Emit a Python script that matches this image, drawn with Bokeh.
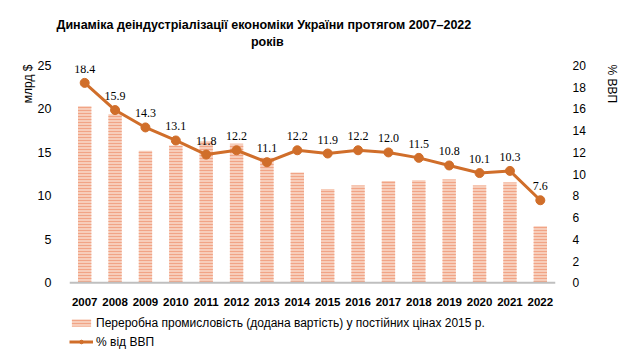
import math
from bokeh.plotting import figure
from bokeh.models import (Range1d, LinearAxis, Legend, LegendItem, Span,
                          ColumnDataSource, FixedTicker)
from bokeh.embed import file_html
from bokeh.resources import INLINE
from bokeh.core.properties import value

# ---- data ----
years = [str(y) for y in range(2007, 2023)]
manuf_value = [20.3, 19.4, 15.2, 15.8, 16.3, 16.0, 14.4, 12.7, 10.8, 11.2,
               11.7, 11.8, 11.9, 11.2, 11.55, 6.5]
share_gdp = [18.4, 15.9, 14.3, 13.1, 11.8, 12.2, 11.1, 12.2, 11.9, 12.2,
             12.0, 11.5, 10.8, 10.1, 10.3, 7.6]
share_labels = [f"{v:.1f}" for v in share_gdp]
left_ticks = [0, 5, 10, 15, 20, 25]
right_ticks = list(range(0, 21, 2))

title_line1 = "Динаміка деіндустріалізації економіки України протягом 2007–2022"
title_line2 = "років"
bar_name = "Переробна промисловість (додана вартість) у постійних цінах 2015 р."
line_name = "% від ВВП"
left_axis_title = "млрд $"
right_axis_title = "% ВВП"

LINE_COLOR = "#D06E2A"
BAR_FILL = "#F7CDBA"
BAR_HATCH = "#F1A486"
FONT = "Liberation Sans"
NBSP = "\u00a0"

# extra room below zero (for category labels and legend) inside the frame
LEFT_MAX, RIGHT_MAX = 25, 20
below_frac = 8.13 / 25

src = ColumnDataSource(dict(year=years, val=manuf_value, share=share_gdp, lab=share_labels))

p = figure(x_range=years, y_range=Range1d(-LEFT_MAX * below_frac, LEFT_MAX),
           frame_width=486, frame_height=288,
           output_backend="svg", toolbar_location=None,
           min_border_left=69, min_border_right=70, min_border_top=65, min_border_bottom=0)
p.extra_y_ranges = {"pct": Range1d(-RIGHT_MAX * below_frac, RIGHT_MAX)}

# two-line title; second line centred under the first with no-break spaces
p.title.text = title_line1 + "\n" + NBSP * 56 + title_line2
p.title.align = "left"
p.title.offset = -13
p.title.vertical_align = "top"
p.title.text_font = FONT
p.title.text_font_size = "12.5px"
p.title.text_font_style = "bold"
p.title.text_color = "#000000"
p.title.text_line_height = 1.25
p.title.standoff = 28

bars = p.vbar(x="year", top="val", width=0.44, source=src, fill_color=BAR_FILL,
              line_color=None, hatch_pattern="horizontal_line", hatch_color=BAR_HATCH,
              hatch_scale=3, hatch_weight=1)
p.add_layout(Span(location=0, dimension="width", line_color="#BFBFBF", line_width=2))
ln = p.line(x="year", y="share", source=src, y_range_name="pct", line_color=LINE_COLOR, line_width=3)
pts = p.scatter(x="year", y="share", source=src, y_range_name="pct", size=9,
                fill_color=LINE_COLOR, line_color=LINE_COLOR)
p.text(x="year", y="share", text="lab", source=src, y_range_name="pct",
       text_font=value("Liberation Serif"), text_font_size="12px", text_align="center",
       text_baseline="middle", y_offset=-14, text_color="#000000")
# category (year) labels under the baseline
p.text(x="year", y=0, text="year", source=src,
       text_font=value(FONT), text_font_style="bold", text_font_size="11.5px",
       text_align="center", text_baseline="middle", y_offset=19, text_color="#000000")

# axes
p.grid.visible = False
p.outline_line_color = None
p.xaxis.visible = False

ya = p.yaxis[0]
ya.ticker = FixedTicker(ticks=left_ticks)
ya.axis_line_color = None
ya.major_tick_line_color = None
ya.minor_tick_line_color = None
ya.major_label_text_font = FONT
ya.major_label_text_font_size = "12.5px"
ya.major_label_text_color = "#000000"
ya.major_label_standoff = 12
ya.axis_label = left_axis_title + NBSP * 11
ya.axis_label_align = "end"
ya.axis_label_standoff = 0
ya.axis_label_text_font = FONT
ya.axis_label_text_font_size = "12px"
ya.axis_label_text_font_style = "normal"
ya.axis_label_text_color = "#000000"

ra = LinearAxis(y_range_name="pct", ticker=FixedTicker(ticks=right_ticks))
ra.axis_line_color = None
ra.major_tick_line_color = None
ra.minor_tick_line_color = None
ra.major_label_text_font = FONT
ra.major_label_text_font_size = "12px"
ra.major_label_text_color = "#000000"
ra.major_label_standoff = 11
ra.axis_label = NBSP * 11 + right_axis_title
ra.axis_label_align = "end"
ra.axis_label_orientation = "vertical"
ra.axis_label_standoff = 16
ra.axis_label_text_font = FONT
ra.axis_label_text_font_size = "12px"
ra.axis_label_text_font_style = "normal"
ra.axis_label_text_color = "#000000"
p.add_layout(ra, "right")

legend = Legend(items=[LegendItem(label=bar_name, renderers=[bars]),
                       LegendItem(label=line_name, renderers=[ln, pts])],
                location=(0, 2), orientation="vertical", margin=0, padding=0,
                spacing=0, glyph_width=24, glyph_height=9, label_height=19,
                label_standoff=3, border_line_color=None, background_fill_alpha=0,
                label_text_font=FONT, label_text_font_size="12px", label_text_color="#000000")
p.add_layout(legend, "center")

open("out.html", "w").write(file_html(p, INLINE))
